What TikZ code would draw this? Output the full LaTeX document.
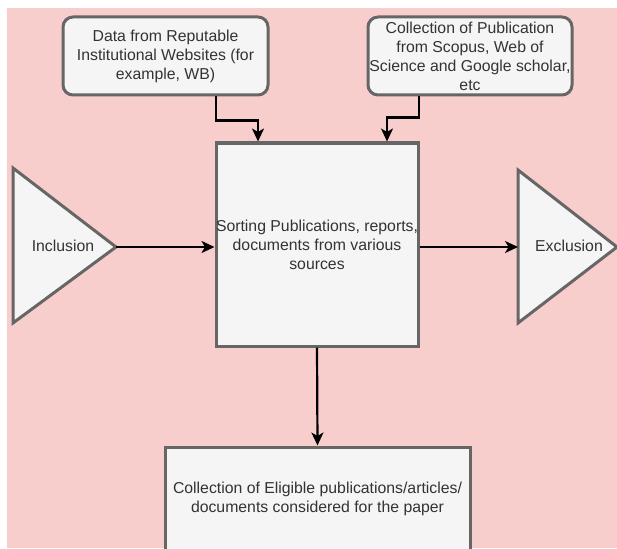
\documentclass[tikz,border=0pt]{standalone}
\usepackage{fontspec}
\setmainfont{Liberation Sans}
\usepackage{tikz}
\usetikzlibrary{arrows.meta}
\usetikzlibrary{positioning}
\definecolor{mpink}{HTML}{F8CECC}
\definecolor{mfill}{HTML}{F5F5F5}
\definecolor{mline}{HTML}{666666}
\definecolor{mtext}{HTML}{333333}
\tikzset{box/.style = {draw=mline, fill=mfill, line width=3, text=mtext,
                       align=center, inner sep=0,
                       font=\fontsize{15.8}{19}\selectfont}}
\tikzset{srcbox/.style = {box, rounded corners=10}}
\tikzset{tri/.style = {draw=mline, fill=mfill, line width=3, line join=miter}}
\tikzset{flow/.style = {draw=black, line width=2.2,
                        -{Stealth[length=13, width=12, inset=3.5]}}}

\begin{document}
\begin{tikzpicture}[x=1pt, y=-1pt]
      \useasboundingbox (0, 0) rectangle (617, 548);
      \fill [mpink] (7, 8) rectangle (617, 548);

      \node [srcbox, minimum width=205, minimum height=78] (web) at (165.5, 56)
            {Data from Reputable\\Institutional Websites (for\\example, WB)};
      \node [srcbox, minimum width=204, minimum height=78] (pubs) at (470, 56)
            {Collection of Publication\\from Scopus, Web of\\Science and Google scholar,\\etc};

      \node [box, minimum width=202, minimum height=203] (sort) at (317, 244.5)
            {Sorting Publications, reports,\\documents from various\\sources};

      \node [box, minimum width=305, minimum height=103] (final) at (317.5, 498.5)
            {Collection of Eligible publications/articles/\\documents considered for the paper};

      \draw [tri] (13, 168) -- (116, 247) -- (13, 323) -- cycle;
      \coordinate (incl) at (116, 247);
      \node [text=mtext, font=\fontsize{15.8}{19}\selectfont] (incltxt) at (63, 246) {Inclusion};

      \draw [tri] (518, 170) -- (617, 247) -- (518, 323) -- cycle;
      \coordinate (excl) at (518, 247);
      \node [text=mtext, font=\fontsize{15.8}{19}\selectfont] (excltxt) at (569, 246) {Exclusion};

      \draw [flow] ([xshift=50.5]web.south) -- ++(0, 24) -| ([xshift=-59]sort.north);
      \draw [flow] ([xshift=-51]pubs.south) -- ++(0, 21) -| ([xshift=70]sort.north);

      \draw [flow] (incl) -- (sort.west |- incl);
      \draw [flow] (sort.east |- excl) -- (excl);
      \draw [flow] (sort.south) -- (final.north);
\end{tikzpicture}
\end{document}
